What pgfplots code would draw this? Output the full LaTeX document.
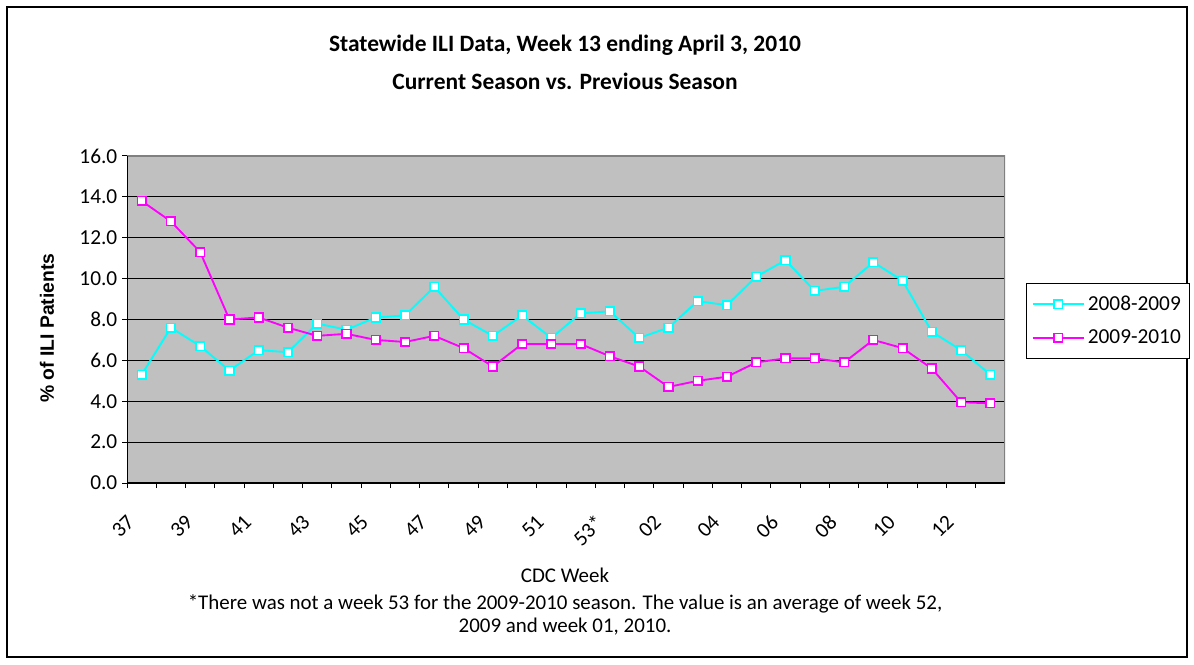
\documentclass[border=0pt]{standalone}
\usepackage{fontspec}
\setmainfont{Carlito}
\newfontfamily\arialfont{Liberation Sans}
\usepackage{pgfplots}
\pgfplotsset{compat=1.18}
\definecolor{plotbg}{RGB}{192,192,192}
\definecolor{cy}{RGB}{0,255,255}
\definecolor{mg}{RGB}{255,0,255}
\definecolor{bordergray}{RGB}{128,128,128}
\begin{document}
\begin{tikzpicture}
\path[use as bounding box] (-95.25pt,-135.75pt) rectangle (800.25pt,362.25pt);
\draw[black, line width=0.8pt] (-90pt,357pt) rectangle (795pt,-130.5pt);
\begin{axis}[
  at={(0pt,0pt)}, anchor=south west,
  scale only axis, width=658.5pt, height=245.25pt,
  xmin=-0.5, xmax=29.5, ymin=0, ymax=16,
  ytick={0,2,...,16},
  xtick={-0.5,1.5,...,27.5},
  xticklabels={37,39,41,43,45,47,49,51,53*,02,04,06,08,10,12},
  minor xtick={0.5,2.5,...,29.5},
  tick align=outside, tick pos=left,
  major tick length=3.75pt, minor tick length=3.75pt,
  every tick/.style={black, line width=0.75pt},
  ymajorgrids, grid style={black, line width=0.9pt},
  axis background/.style={fill=plotbg},
  axis line style={draw=none},
  /pgf/number format/assume math mode=true,
  yticklabel style={font=\fontsize{16}{19}\selectfont, /pgf/number format/fixed, /pgf/number format/fixed zerofill, /pgf/number format/precision=1},
  xticklabel style={font=\fontsize{16}{19}\selectfont, xshift=-1pt, yshift=-19pt, rotate=45, anchor=north east, inner sep=0pt},
  legend style={at={(1.024,0.6116)}, anchor=north west, draw=black, fill=white,
    font=\fontsize{16}{19}\selectfont, row sep=9pt, inner xsep=4pt, inner ysep=7.5pt},
  legend cell align=left,
  legend image code/.code={\draw[mark repeat=2,mark phase=2,#1] plot coordinates {(0cm,0cm) (0.68cm,0cm) (1.36cm,0cm)};},
]
\addplot[cy, line width=1.4pt, mark=square*, mark size=3.2pt, mark options={fill=white, draw=cy, line width=1.2pt}] coordinates {
(0,5.3) (1,7.6) (2,6.7) (3,5.5) (4,6.5) (5,6.4) (6,7.8) (7,7.5) (8,8.1) (9,8.2)
(10,9.6) (11,8.0) (12,7.2) (13,8.2) (14,7.1) (15,8.3) (16,8.4) (17,7.1) (18,7.6) (19,8.9)
(20,8.7) (21,10.1) (22,10.9) (23,9.4) (24,9.6) (25,10.8) (26,9.9) (27,7.4) (28,6.5) (29,5.3)
};
\addlegendentry{2008-2009}
\addplot[mg, line width=1.4pt, mark=square*, mark size=3.2pt, mark options={fill=white, draw=mg, line width=1.2pt}] coordinates {
(0,13.8) (1,12.8) (2,11.3) (3,8.0) (4,8.1) (5,7.6) (6,7.2) (7,7.3) (8,7.0) (9,6.9)
(10,7.2) (11,6.6) (12,5.7) (13,6.8) (14,6.8) (15,6.8) (16,6.2) (17,5.7) (18,4.7) (19,5.0)
(20,5.2) (21,5.9) (22,6.1) (23,6.1) (24,5.9) (25,7.0) (26,6.6) (27,5.6) (28,3.95) (29,3.9)
};
\addlegendentry{2009-2010}
\draw[bordergray, line width=1.5pt] (rel axis cs:0,1) -- (rel axis cs:1,1) -- (rel axis cs:1,0);
\draw[black, line width=0.9pt] (rel axis cs:0,1) -- (rel axis cs:0,0) -- (rel axis cs:1,0);
\end{axis}
\node[font=\bfseries\fontsize{17.6}{21}\selectfont] at (328.5pt,328.5pt) {Statewide ILI Data, Week 13 ending April 3, 2010};
\node[font=\bfseries\fontsize{17.6}{21}\selectfont] at (328.5pt,301.5pt) {Current Season vs. Previous Season};
\node[font=\arialfont\bfseries\fontsize{14.5}{17}\selectfont, rotate=90] at (-60pt,116pt) {\% of ILI Patients};
\node[font=\fontsize{15.7}{18}\selectfont] at (328.5pt,-69pt) {CDC Week};
\node[font=\fontsize{15.7}{18}\selectfont] at (328.5pt,-90.75pt) {*There was not a week 53 for the 2009-2010 season. The value is an average of week 52,};
\node[font=\fontsize{15.7}{18}\selectfont] at (328.5pt,-108pt) {2009 and week 01, 2010.};
\end{tikzpicture}
\end{document}
